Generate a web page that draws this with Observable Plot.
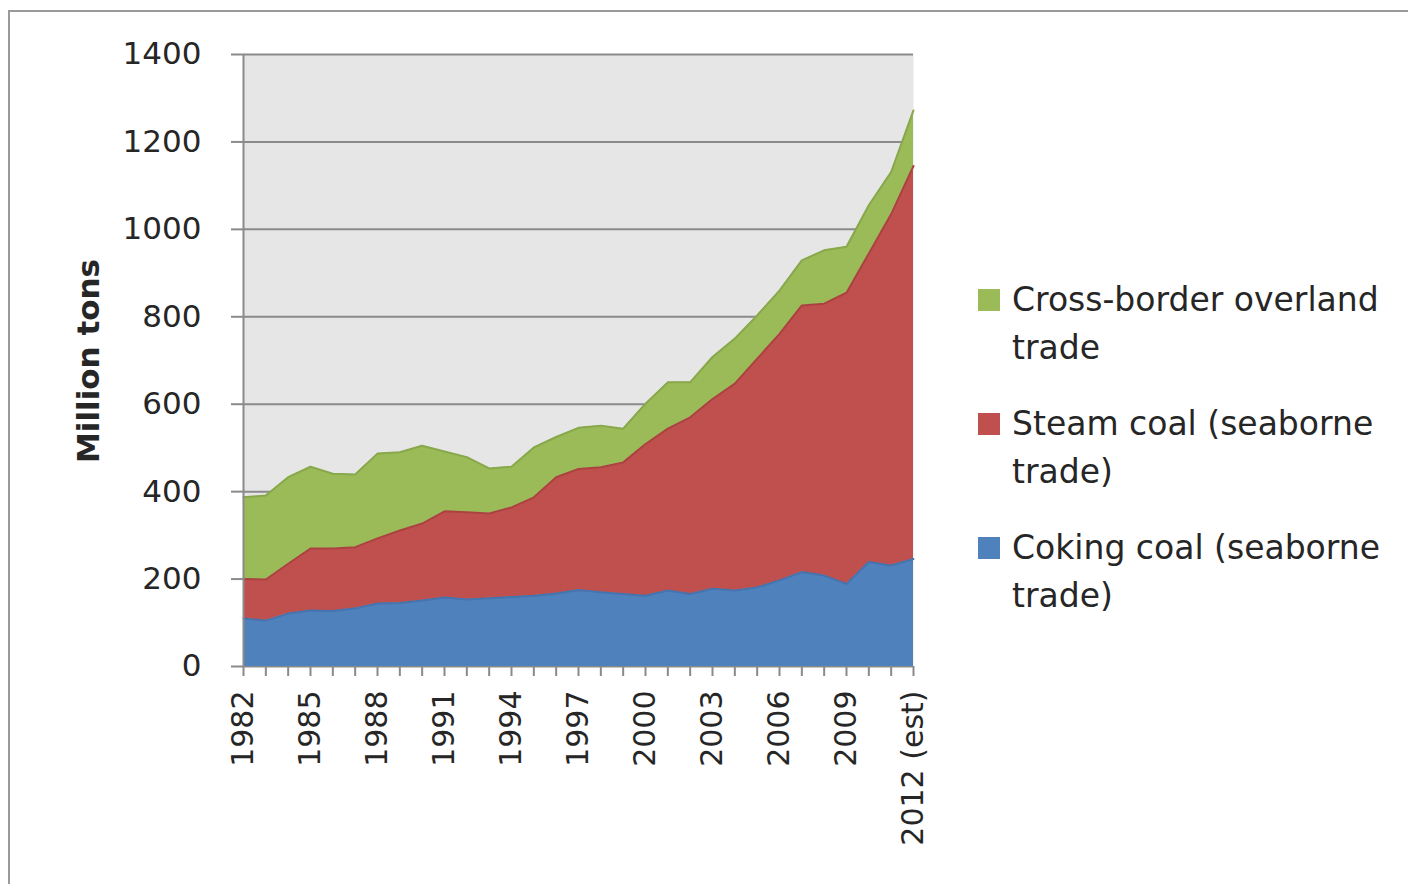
<!DOCTYPE html>
<html><head><meta charset="utf-8">
<script src="https://cdn.jsdelivr.net/npm/d3@7"></script>
<script src="https://cdn.jsdelivr.net/npm/@observablehq/plot@0.6"></script>
<style>
html,body{margin:0;padding:0;background:#fff;}
body{width:1408px;height:884px;overflow:hidden;position:relative;font-family:"DejaVu Sans",sans-serif;color:#262626;}
#frame{position:absolute;left:8px;top:10px;width:1500px;height:900px;border:2px solid #9a9a9a;box-sizing:border-box;}
#chart{position:absolute;left:0;top:0;}
#ytitle{position:absolute;left:88px;top:361px;transform:translate(-50%,-50%) rotate(-90deg);font-weight:bold;font-size:31px;white-space:nowrap;}
.li{position:absolute;left:978px;font-size:33px;line-height:48px;}
.sw{position:absolute;left:0;top:13px;width:22px;height:22px;}
.tx{position:absolute;left:34px;top:0;white-space:nowrap;}
</style></head>
<body>
<div id="frame"></div>
<div id="chart"></div>
<div id="ytitle">Million tons</div>
<div id="legend"></div>
<script>
const years = [1982,1983,1984,1985,1986,1987,1988,1989,1990,1991,1992,1993,1994,1995,1996,1997,1998,1999,2000,2001,2002,2003,2004,2005,2006,2007,2008,2009,2010,2011,2012];
const coking = [110,105,121,128,127,133,144,145,151,158,153,156,159,162,167,175,170,166,162,174,166,178,174,181,197,216,208,189,239,231,246];
const steam = [90,94,114,142,143,140,149,166,176,197,200,194,205,225,266,277,286,301,347,370,404,434,473,523,564,610,622,666,706,804,899];
const crossBorder = [187,192,198,187,171,166,194,179,178,137,126,103,93,114,92,94,95,77,92,106,80,96,103,99,99,103,122,105,110,96,127];

const seriesNames = ["Coking coal (seaborne trade)", "Steam coal (seaborne trade)", "Cross-border overland trade"];
const seriesColors = ["#4f81bd", "#c0504d", "#9bbb59"];
const seriesEdges = ["#4473ad", "#aa4340", "#88a84c"];
const legendOrder = ["Cross-border overland trade", "Steam coal (seaborne trade)", "Coking coal (seaborne trade)"];
const legendLines = [["Cross-border overland", "trade"], ["Steam coal (seaborne", "trade)"], ["Coking coal (seaborne", "trade)"]];

const yTicks = [0,200,400,600,800,1000,1200,1400];
const labelYears = [1982,1985,1988,1991,1994,1997,2000,2003,2006,2009,2012];
const xTickLabels = ["1982","1985","1988","1991","1994","1997","2000","2003","2006","2009","2012 (est)"];

const seriesValues = [coking, steam, crossBorder];
const data = [];
seriesNames.forEach((name, s) => years.forEach((yr, i) => data.push({year: yr, value: seriesValues[s][i], series: name})));

const edgeOf = Object.fromEntries(seriesNames.map((n, i) => [n, seriesEdges[i]]));

const chart = Plot.plot({
  width: 1408, height: 884,
  marginLeft: 243, marginRight: 495, marginTop: 54, marginBottom: 218,
  style: {fontFamily: "DejaVu Sans", fontSize: "31px", color: "#262626", background: "transparent", overflow: "visible"},
  x: {domain: [1982, 2012]},
  y: {domain: [0, 1400]},
  color: {domain: seriesNames, range: seriesColors},
  marks: [
    Plot.frame({fill: "#e6e6e6", stroke: null}),
    Plot.gridY({ticks: yTicks, stroke: "#8a8a8a", strokeOpacity: 1, strokeWidth: 2}),
    Plot.areaY(data, {x: "year", y: "value", z: "series", fill: "series", order: seriesNames}),
    Plot.lineY(data, Plot.stackY2({x: "year", y: "value", z: "series", order: seriesNames, stroke: {value: d => edgeOf[d.series], scale: null}, strokeWidth: 2})),
    Plot.ruleX([1982], {stroke: "#8a8a8a", strokeWidth: 2}),
    Plot.axisY({ticks: yTicks, tickSize: 12, tickPadding: 30, tickFormat: d => String(d), label: null, stroke: "#8a8a8a", strokeWidth: 2, fontSize: 31}),
    Plot.axisX({ticks: years, tickSize: 10, tickFormat: () => "", label: null, stroke: "#8a8a8a", strokeWidth: 2}),
    Plot.axisX({ticks: labelYears, tickSize: 0, tickPadding: 24, tickRotate: -90, label: null, fontSize: 30,
      tickFormat: d => xTickLabels[labelYears.indexOf(d)]})
  ]
});
document.getElementById("chart").appendChild(chart);

const legend = document.getElementById("legend");
const tops = [276, 400, 524];
legendOrder.forEach((name, k) => {
  const it = document.createElement("div");
  it.className = "li";
  it.style.top = tops[k] + "px";
  const sw = document.createElement("div");
  sw.className = "sw";
  sw.style.background = seriesColors[seriesNames.indexOf(name)];
  const tx = document.createElement("div");
  tx.className = "tx";
  tx.innerHTML = legendLines[k].join("<br>");
  it.appendChild(sw); it.appendChild(tx);
  legend.appendChild(it);
});
</script>
</body></html>
